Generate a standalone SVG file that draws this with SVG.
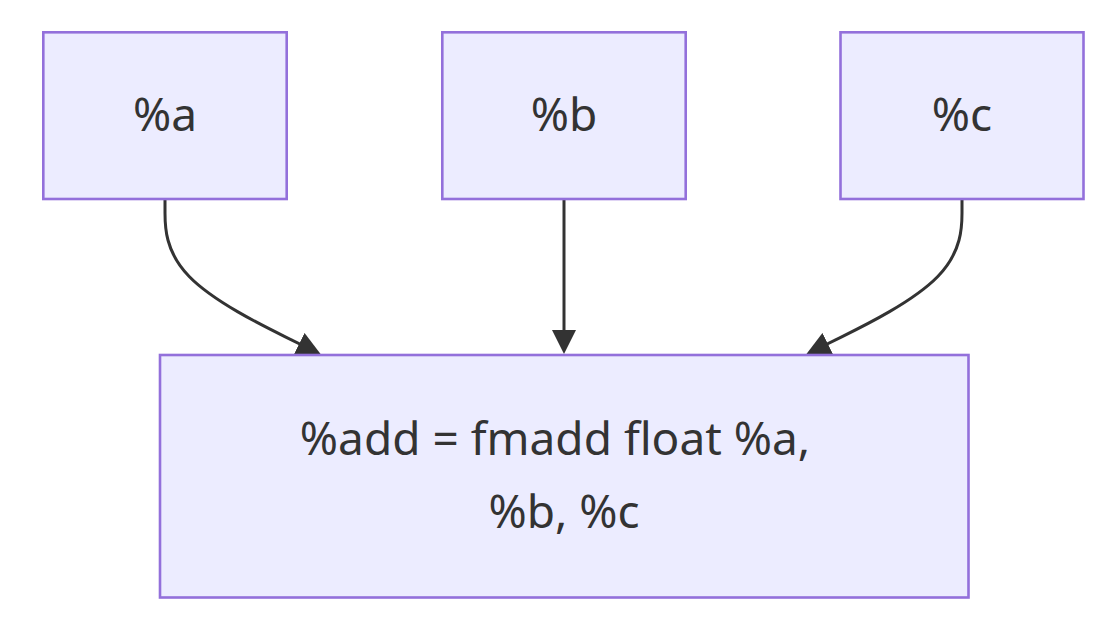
<svg xmlns="http://www.w3.org/2000/svg" width="1102" height="618" viewBox="0 0 1102 618">
  <style>
    .node rect { fill: #ECECFF; stroke: #9370DB; stroke-width: 2.6; }
    .node text { font-family: "Noto Sans", "Open Sans", "DejaVu Sans", sans-serif; font-size: 46px; fill: #333333; text-anchor: middle; }
    .edge { fill: none; stroke: #333333; stroke-width: 3; }
  </style>
  <defs>
    <marker id="arrow" viewBox="0 0 10 10" refX="5" refY="5" markerUnits="userSpaceOnUse" markerWidth="24" markerHeight="24" orient="auto">
      <path d="M0,0 L10,5 L0,10 z" fill="#333333"/>
    </marker>
  </defs>
  <rect width="1102" height="618" fill="#ffffff"/>
  <g id="connectors">
    <path class="edge" marker-end="url(#arrow)" d="M165,200 L165,212.9 C165,225.8 165,251.7 189.2,276.5 C213.3,301.3 261.7,325.2 285.8,337.1 L310,349"/>
    <path class="edge" marker-end="url(#arrow)" d="M564,200 L564,342"/>
    <path class="edge" marker-end="url(#arrow)" d="M962,200 L962,212.9 C962,225.8 962,251.7 937.8,276.5 C913.7,301.3 865.3,325.2 841.2,337.1 L817,349"/>
  </g>
  <g id="node-a" class="node">
    <rect x="43.3" y="32.3" width="243.4" height="166.7"/>
    <text x="165" y="131">%a</text>
  </g>
  <g id="node-b" class="node">
    <rect x="442.3" y="32.3" width="243.4" height="166.7"/>
    <text x="564" y="131">%b</text>
  </g>
  <g id="node-c" class="node">
    <rect x="840.5" y="32.3" width="243" height="166.7"/>
    <text x="962" y="131">%c</text>
  </g>
  <g id="node-add" class="node">
    <rect x="160" y="355" width="808.5" height="242.5"/>
    <text x="555" y="455">%add = fmadd float %a,</text>
    <text x="564" y="528">%b, %c</text>
  </g>
</svg>
